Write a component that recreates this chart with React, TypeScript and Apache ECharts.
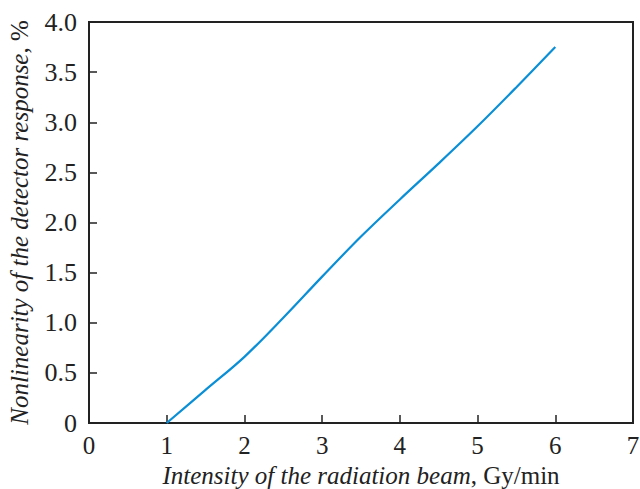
import React, { useEffect, useRef } from "react";
import * as echarts from "echarts";

const intensity = [1, 1.5, 2, 2.5, 3, 3.5, 4, 4.5, 5, 5.5, 6];
const nonlinearity = [0, 0.33, 0.66, 1.05, 1.46, 1.86, 2.23, 2.59, 2.96, 3.35, 3.75];

const xAxisTitle = "Intensity of the radiation beam";
const xAxisUnit = ", Gy/min";
const yAxisTitle = "Nonlinearity of the detector response";
const yAxisUnit = ", %";

const FONT = "'Liberation Serif', 'Times New Roman', serif";

export default function App() {
  const ref = useRef<HTMLDivElement>(null);
  useEffect(() => {
    document.body.style.margin = "0";
    if (!ref.current) return;
    const chart = echarts.init(ref.current, null, { renderer: "svg" });
    const axisColor = "#222";
    chart.setOption({
      animation: false,
      backgroundColor: "#fff",
      grid: {
        left: 89,
        right: 7,
        top: 22,
        bottom: 66,
        show: true,
        borderColor: axisColor,
        borderWidth: 2,
        containLabel: false,
        outerBoundsMode: "none",
      },
      xAxis: {
        type: "value",
        min: 0,
        max: 7,
        interval: 1,
        splitLine: { show: false },
        axisLine: { show: true, lineStyle: { color: axisColor, width: 2 } },
        axisTick: { show: true, inside: true, length: 8, lineStyle: { color: axisColor, width: 1.5 } },
        axisLabel: {
          color: "#222",
          fontFamily: FONT,
          fontSize: 25,
          margin: 10,
          showMaxLabel: true,
          showMinLabel: true,
          hideOverlap: false,
        },
        name: `{i|${xAxisTitle}}{n|${xAxisUnit}}`,
        nameLocation: "middle",
        nameGap: 38,
        nameTextStyle: {
          rich: {
            i: { fontFamily: FONT, fontStyle: "italic", fontSize: 25, color: "#222" },
            n: { fontFamily: FONT, fontSize: 25, color: "#222" },
          },
        },
      },
      yAxis: {
        type: "value",
        min: 0,
        max: 4,
        interval: 0.5,
        splitLine: { show: false },
        axisLine: { show: true, lineStyle: { color: axisColor, width: 2 } },
        axisTick: { show: true, inside: true, length: 8, lineStyle: { color: axisColor, width: 1.5 } },
        axisLabel: {
          color: "#222",
          fontFamily: FONT,
          fontSize: 26,
          margin: 12,
          formatter: (v: number) => (v === 0 ? "0" : v.toFixed(1)),
        },
        name: `{i|${yAxisTitle}}{n|${yAxisUnit}}`,
        nameLocation: "middle",
        nameGap: 57,
        nameTextStyle: {
          rich: {
            i: { fontFamily: FONT, fontStyle: "italic", fontSize: 25, color: "#222" },
            n: { fontFamily: FONT, fontSize: 25, color: "#222" },
          },
        },
      },
      series: [
        {
          type: "line",
          data: intensity.map((x, i) => [x, nonlinearity[i]]),
          smooth: 0.35,
          showSymbol: false,
          symbol: "none",
          lineStyle: { color: "#0a8fd6", width: 2.2 },
        },
      ],
    });
    return () => chart.dispose();
  }, []);
  return <div ref={ref} style={{ width: 640, height: 489 }} />;
}
